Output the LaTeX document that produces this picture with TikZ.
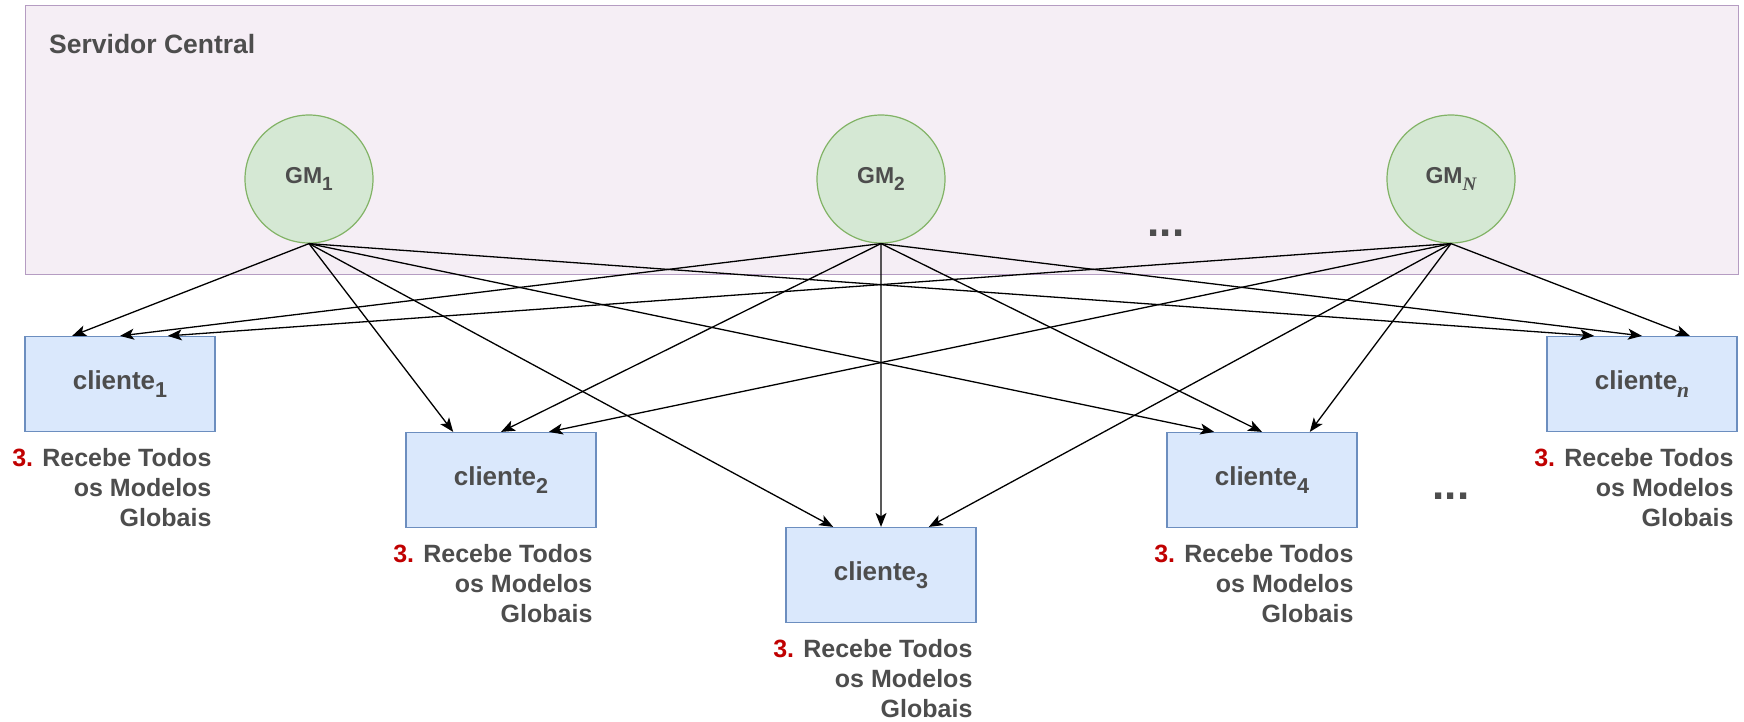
\documentclass[tikz,border=0pt]{standalone}
\usepackage{fontspec}
\setmainfont{Liberation Sans}
\newfontfamily\seriffam{Liberation Serif}
\usetikzlibrary{arrows.meta,calc}

\definecolor{txt}{HTML}{4D4D4D}
\definecolor{srvfill}{HTML}{F5EEF5}
\definecolor{srvline}{HTML}{B59CC2}
\definecolor{gmfill}{HTML}{D5E8D4}
\definecolor{gmline}{HTML}{82B366}
\definecolor{clfill}{HTML}{DAE8FC}
\definecolor{clline}{HTML}{6C8EBF}
\definecolor{stepred}{HTML}{C00000}

% lowered, slightly smaller index (digits upright, letters serif italic)
\newcommand{\lowsub}[1]{\raisebox{-0.3em}{\scalebox{0.83}{#1}}}
\newcommand{\varsub}[1]{\lowsub{{\seriffam\itshape #1}}}

\begin{document}
\begin{tikzpicture}[x=1pt,y=-1pt,
  server/.style={rectangle, draw=srvline, fill=srvfill, line width=1.2pt,
    minimum width=1713pt, minimum height=269pt, inner sep=0pt},
  title/.style={font=\fontsize{26.5}{30}\selectfont\bfseries, text=txt, inner sep=0pt},
  gm/.style={circle, draw=gmline, fill=gmfill, line width=1.2pt,
    minimum size=128pt, inner sep=0pt,
    font=\fontsize{23}{28}\selectfont\bfseries, text=txt},
  client/.style={rectangle, draw=clline, fill=clfill, line width=1.2pt,
    minimum width=190pt, minimum height=95pt, inner sep=0pt,
    font=\fontsize{26}{30}\selectfont\bfseries, text=txt},
  note/.style={align=right, inner sep=0pt, anchor=north east,
    font=\fontsize{25}{30}\selectfont\bfseries, text=txt},
  feed/.style={-{Stealth[length=14pt,width=11pt,inset=3.5pt]}, line width=1.3pt, black},
  dots/.style={font=\fontsize{44}{44}\selectfont\bfseries, text=txt, inner sep=0pt}
]
\useasboundingbox (0,0) rectangle (1744,721);

% central server area
\node[server, anchor=north west] (srv) at (25,5) {};
\node[title, anchor=west] (srvtitle) at (49,44) {Servidor Central};

% global models
\node[gm] (g1) at (309,179) {GM\lowsub{1}};
\node[gm] (g2) at (881,179) {GM\lowsub{2}};
\node[gm] (gn) at (1451,179) {GM\varsub{N}};
\node[dots] (sdots) at (1166,233) {...};

% clients
\node[client] (c1) at (120,384) {cliente\lowsub{1}};
\node[client] (c2) at (501,480) {cliente\lowsub{2}};
\node[client] (c3) at (881,575) {cliente\lowsub{3}};
\node[client] (c4) at (1262,480) {cliente\lowsub{4}};
\node[client] (cn) at (1642,384) {cliente\varsub{n}};
\node[dots] (cdots) at (1451,496) {...};

% step labels under each client
\foreach \c in {c1,c2,c3,c4,cn}{
  \node[note] (\c-note) at ($(\c.south east)+(-4,16)$)
    {\textcolor{stepred}{3.} Recebe Todos\\os Modelos\\Globais};
}

% every global model is sent to every client
\foreach \c in {c1,c2,c3,c4,cn}{
  \draw[feed] (g1.south) -- ($(\c.north west)!0.25!(\c.north east)$);
  \draw[feed] (g2.south) -- ($(\c.north west)!0.5!(\c.north east)$);
  \draw[feed] (gn.south) -- ($(\c.north west)!0.75!(\c.north east)$);
}
\end{tikzpicture}
\end{document}
